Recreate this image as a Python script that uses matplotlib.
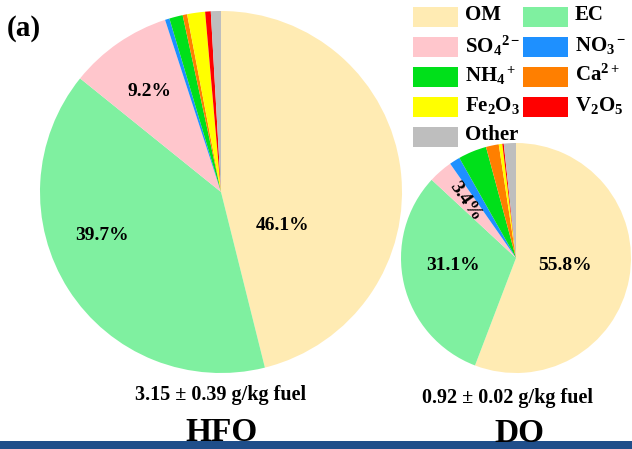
import matplotlib
matplotlib.use("Agg")
import matplotlib.pyplot as plt
from matplotlib.patches import Rectangle

plt.rcParams['font.family'] = ['Liberation Serif', 'DejaVu Serif']
plt.rcParams['font.weight'] = 'bold'
plt.rcParams['mathtext.fontset'] = 'custom'
plt.rcParams['mathtext.rm'] = 'Liberation Serif:bold'
plt.rcParams['mathtext.it'] = 'Liberation Serif:bold'
plt.rcParams['mathtext.bf'] = 'Liberation Serif:bold'

# species, in the order they go round clockwise from 12 o'clock
species = ['OM', 'EC', r'SO$_4$$^{2-}$', r'NO$_3$$^-$', r'NH$_4$$^+$',
           r'Ca$^{2+}$', r'Fe$_2$O$_3$', r'V$_2$O$_5$', 'Other']
colors = ['#FFEBB3', '#7FF0A0', '#FFC6CC', '#1E90FF', '#00E01A',
          '#FF7F00', '#FFFF00', '#FF0000', '#BEBEBE']

# mass fractions (%)
hfo = [46.1, 39.7, 9.2, 0.4, 1.2, 0.4, 1.6, 0.5, 0.9]
do = [55.8, 31.1, 3.4, 1.5, 4.0, 1.8, 0.5, 0.2, 1.7]

hfo_total = '3.15 ± 0.39 g/kg fuel'
do_total = '0.92 ± 0.02 g/kg fuel'

H = 449
fig = plt.figure(figsize=(6.32, 4.49), dpi=100)
ax = fig.add_axes([0, 0, 1, 1])

w1, _ = ax.pie(hfo, colors=colors, startangle=90, counterclock=False,
               center=(221, H - 192), radius=181, frame=True)
w2, _ = ax.pie(do, colors=colors, startangle=90, counterclock=False,
               center=(516, H - 258), radius=115, frame=True)
ax.set_xlim(0, 632)
ax.set_ylim(0, H)
ax.set_aspect('equal')
ax.axis('off')

lbl = dict(fontsize=14, fontweight='bold', ha='center', va='center')
ax.text(283, H - 226, f'{hfo[0]}%', **lbl)
ax.text(102, H - 236, f'{hfo[1]}%', **lbl)
ax.text(150, H - 91, f'{hfo[2]}%', **lbl)
ax.text(565, H - 266, f'{do[0]}%', **lbl)
ax.text(453, H - 266, f'{do[1]}%', **lbl)
ax.text(465, H - 201, f'{do[2]}%', rotation=-55, rotation_mode='anchor', **lbl)

ax.text(221, H - 395, hfo_total, fontsize=14.5, ha='center', va='center')
ax.text(508, H - 398, do_total, fontsize=14.5, ha='center', va='center')
ax.text(222, H - 441, 'HFO', fontsize=24, ha='center', va='baseline')
ax.text(519, H - 442, 'DO', fontsize=24, ha='center', va='baseline')
ax.text(7, H - 29, '(a)', fontsize=21, ha='left', va='center')

# legend: two columns of colour boxes
for i, (name, c) in enumerate(zip(species, colors)):
    col, row = i % 2, i // 2
    x0 = 413 + col * 110
    yc = H - (16.5 + row * 30)
    ax.add_patch(Rectangle((x0, yc - 10), 45, 20, facecolor=c, edgecolor='none'))
    ax.text(x0 + 52, yc + 1, name, fontsize=15, ha='left', va='center')

# bottom banner
ax.add_patch(Rectangle((0, 0), 632, 8, facecolor='#1F4E8A', edgecolor='none',
                       zorder=0))

fig.savefig('out.png', dpi=100)
